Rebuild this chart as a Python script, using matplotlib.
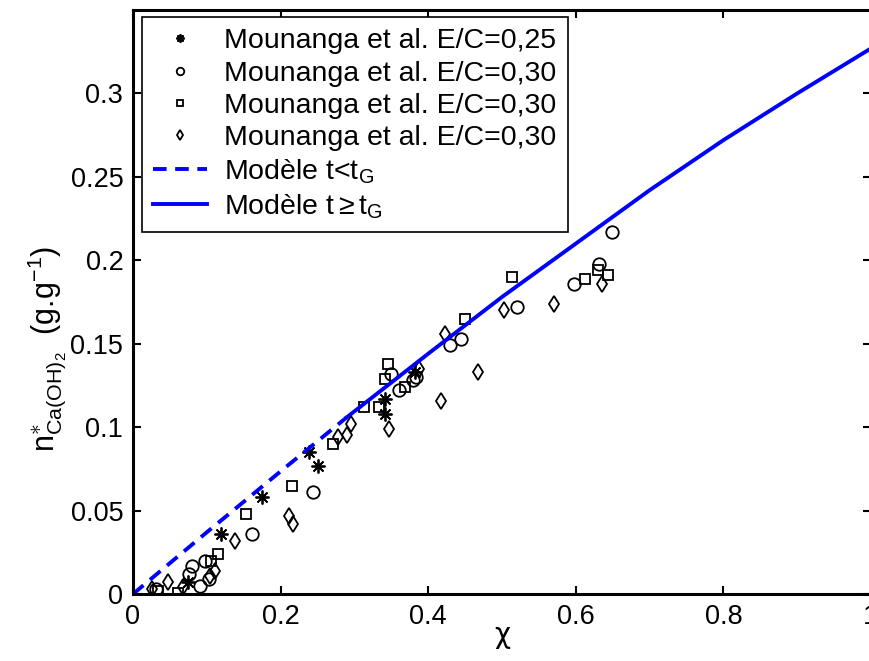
import matplotlib
matplotlib.use('Agg')
import matplotlib.pyplot as plt
from matplotlib.ticker import FormatStrFormatter

plt.rcParams['font.family'] = ['Liberation Sans', 'DejaVu Sans']
plt.rcParams['mathtext.fontset'] = 'custom'
plt.rcParams['mathtext.rm'] = 'Liberation Sans'
plt.rcParams['mathtext.it'] = 'Liberation Sans'

star_x = [0.075, 0.119, 0.175, 0.239, 0.251, 0.341, 0.342, 0.382]
star_y = [0.007, 0.036, 0.058, 0.085, 0.077, 0.117, 0.108, 0.133]

circ_x = [0.031, 0.076, 0.080, 0.091, 0.098, 0.103, 0.161, 0.244, 0.349, 0.360,
          0.379, 0.383, 0.429, 0.444, 0.520, 0.597, 0.631, 0.649]
circ_y = [0.003, 0.012, 0.017, 0.0045, 0.0195, 0.009, 0.036, 0.061, 0.132, 0.122,
          0.128, 0.130, 0.149, 0.153, 0.172, 0.186, 0.198, 0.217]

sq_x = [0.034, 0.061, 0.106, 0.115, 0.153, 0.216, 0.271, 0.313, 0.334, 0.342,
        0.346, 0.369, 0.450, 0.514, 0.613, 0.630, 0.643]
sq_y = [0.002, 0.0003, 0.0195, 0.024, 0.048, 0.0645, 0.090, 0.112, 0.112, 0.129,
        0.138, 0.124, 0.165, 0.190, 0.189, 0.194, 0.191]

dia_x = [0.026, 0.047, 0.068, 0.104, 0.111, 0.138, 0.212, 0.217, 0.278, 0.290,
         0.296, 0.347, 0.387, 0.417, 0.423, 0.468, 0.503, 0.570, 0.635]
dia_y = [0.003, 0.007, 0.004, 0.011, 0.014, 0.0315, 0.0466, 0.042, 0.094, 0.095,
         0.102, 0.099, 0.135, 0.1155, 0.156, 0.133, 0.170, 0.174, 0.186]

# model curve
model_x_early = [0, 0.1, 0.2, 0.29]
model_y_early = [0, 0.037, 0.0735, 0.106]
model_x_late = [0.29, 0.4, 0.5, 0.6, 0.7, 0.8, 0.9, 1.0]
model_y_late = [0.106, 0.144, 0.178, 0.210, 0.242, 0.272, 0.300, 0.327]

labels = ['Mounanga et al. E/C=0,25', 'Mounanga et al. E/C=0,30',
          'Mounanga et al. E/C=0,30', 'Mounanga et al. E/C=0,30',
          r'Modèle t<t$_\mathregular{G}$', r'Modèle t$\geq$t$_\mathregular{G}$']

fig = plt.figure(figsize=(8.7, 6.61), dpi=100)
ax = fig.add_axes([133 / 870, 67 / 661, 738 / 870, 584 / 661])

mk = dict(linestyle='none', color='black', mfc='none', mew=1.3)
ax.plot(star_x, star_y, marker=(8, 2, 0), ms=10, label=labels[0], **mk)
ax.plot(circ_x, circ_y, marker='o', ms=9, label=labels[1], **mk)
ax.plot(sq_x, sq_y, marker='s', ms=7.5, label=labels[2], **mk)
ax.plot(dia_x, dia_y, marker='d', ms=8.5, label=labels[3], **mk)
ax.plot(model_x_early, model_y_early, color='#0000ff', lw=2.8, dashes=(3.5, 2.2), label=labels[4])
ax.plot(model_x_late, model_y_late, color='#0000ff', lw=2.8, label=labels[5])

ax.set_xlim(0, 1)
ax.set_ylim(0, 0.35)
ax.set_xticks([0, 0.2, 0.4, 0.6, 0.8, 1])
ax.set_yticks([0, 0.05, 0.1, 0.15, 0.2, 0.25, 0.3])
ax.xaxis.set_major_formatter(FormatStrFormatter('%g'))
ax.yaxis.set_major_formatter(FormatStrFormatter('%g'))
ax.tick_params(direction='in', length=6, width=1.5, labelsize=19.5,
               top=True, right=True, pad=7)
for s in ax.spines.values():
    s.set_linewidth(2.2)

ax.set_xlabel('χ', fontsize=20, labelpad=-6, family=['DejaVu Sans'])
ax.set_ylabel(r'n$^{\ast}_{\mathregular{Ca(OH)_2}}$  (g.g$^{\mathregular{-1}}$)', fontsize=22)
ax.yaxis.set_label_coords(-0.088, 0.42)

leg = ax.legend(loc='upper left', bbox_to_anchor=(0.012, 0.988), borderaxespad=0,
                fontsize=20.5, markerscale=0.6, fancybox=False, framealpha=1,
                edgecolor='black', handlelength=1.9, handletextpad=0.6,
                labelspacing=0.22, borderpad=0.4)
leg.get_frame().set_linewidth(1.2)

fig.savefig('out.png', dpi=100, facecolor='white')
